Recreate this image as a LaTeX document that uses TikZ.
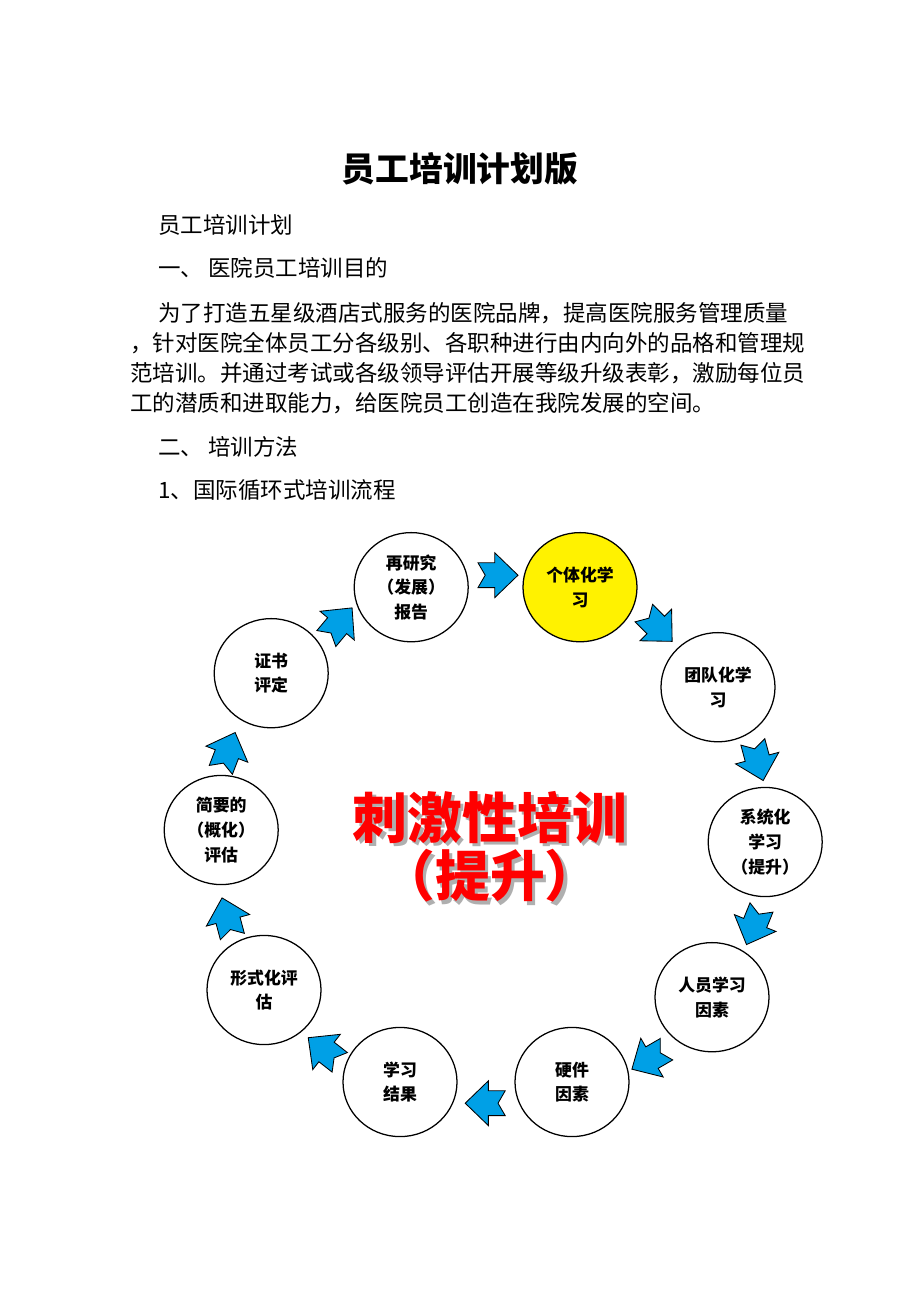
\documentclass[tikz,border=0pt]{standalone}
\usepackage{fontspec}
\newfontfamily\cjk{Noto Sans CJK SC}
\usetikzlibrary{shapes.geometric}
\definecolor{arrowblue}{RGB}{0,160,230}
\definecolor{shadowgray}{RGB}{175,175,175}
\tikzset{
  stage/.style={draw, ellipse, line width=0.9pt, fill=white, minimum width=2.85cm, minimum height=2.73cm, inner sep=0pt, align=center, font=\cjk\bfseries\fontsize{12}{17.5}\selectfont},
  bodyline/.style={anchor=west, inner sep=0pt, font=\cjk\fontsize{16}{18}\selectfont},
  bigtitle/.style={inner sep=0pt, font=\cjk\bfseries\fontsize{39}{42}\selectfont, text=red},
  flowarrow/.pic={
    \draw[fill=arrowblue, line width=0.6pt, line join=miter] (-0.5,0.31) -- (-0.08,0.31) -- (-0.08,0.56) -- (0.5,0) -- (-0.08,-0.56) -- (-0.08,-0.31) -- (-0.5,-0.31) -- (-0.32,0) -- cycle;
  }
}
\begin{document}
\begin{tikzpicture}
    \useasboundingbox (0,0) rectangle (23,-32.55);

    \node[inner sep=0pt, font=\cjk\bfseries\fontsize{24}{28}\selectfont] (title) at (11.5,-4.22) {员工培训计划版};
    \node[bodyline] (plan) at (3.95,-5.63) {员工培训计划};
    \node[bodyline] (aim) at (3.95,-6.70) {一、 医院员工培训目的};
    \node[bodyline] (para1) at (3.95,-7.83) {为了打造五星级酒店式服务的医院品牌，提高医院服务管理质量};
    \node[bodyline] (para2) at (3.25,-8.58) {，针对医院全体员工分各级别、各职种进行由内向外的品格和管理规};
    \node[bodyline] (para3) at (3.25,-9.33) {范培训。并通过考试或各级领导评估开展等级升级表彰，激励每位员};
    \node[bodyline] (para4) at (3.25,-10.08) {工的潜质和进取能力，给医院员工创造在我院发展的空间。};
    \node[bodyline] (method) at (3.95,-11.18) {二、 培训方法};
    \node[bodyline] (cycle) at (3.95,-12.25) {1、国际循环式培训流程};

    % ring of stages
    \node[stage] (research) at (10.28,-14.68) {再研究\\（发展）\\报告};
    \node[stage, fill=yellow] (indiv) at (14.50,-14.68) {个体化学\\习};
    \node[stage] (team) at (17.95,-17.18) {团队化学\\习};
    \node[stage] (system) at (19.13,-21.05) {系统化\\学习\\（提升）};
    \node[stage] (staff) at (17.80,-24.93) {人员学习\\因素};
    \node[stage] (hardware) at (14.30,-27.05) {硬件\\因素};
    \node[stage] (result) at (10.00,-27.05) {学习\\结果};
    \node[stage] (formal) at (6.60,-24.75) {形式化评\\估};
    \node[stage] (brief) at (5.53,-20.75) {简要的\\（概化）\\评估};
    \node[stage] (cert) at (6.78,-16.83) {证书\\评定};

    % arrows between stages
    \pic[rotate=50] at (8.48,-15.58) {flowarrow};
    \pic[rotate=0] at (12.45,-14.38) {flowarrow};
    \pic[rotate=-45] at (16.45,-15.68) {flowarrow};
    \pic[rotate=-75] at (18.95,-19.03) {flowarrow};
    \pic[rotate=-112] at (18.85,-23.15) {flowarrow};
    \pic[rotate=-150] at (16.23,-26.48) {flowarrow};
    \pic[rotate=180] at (12.13,-27.58) {flowarrow};
    \pic[rotate=142] at (8.10,-26.25) {flowarrow};
    \pic[rotate=105] at (5.68,-22.93) {flowarrow};
    \pic[rotate=69] at (5.70,-18.78) {flowarrow};

    % centre text with shadow
    \node[bigtitle, text=shadowgray] at (12.33,-20.51) {刺激性培训};
    \node[bigtitle] (stim) at (12.25,-20.43) {刺激性培训};
    \node[bigtitle, text=shadowgray] at (12.33,-21.98) {（提升）};
    \node[bigtitle] (lift) at (12.25,-21.90) {（提升）};
\end{tikzpicture}
\end{document}
